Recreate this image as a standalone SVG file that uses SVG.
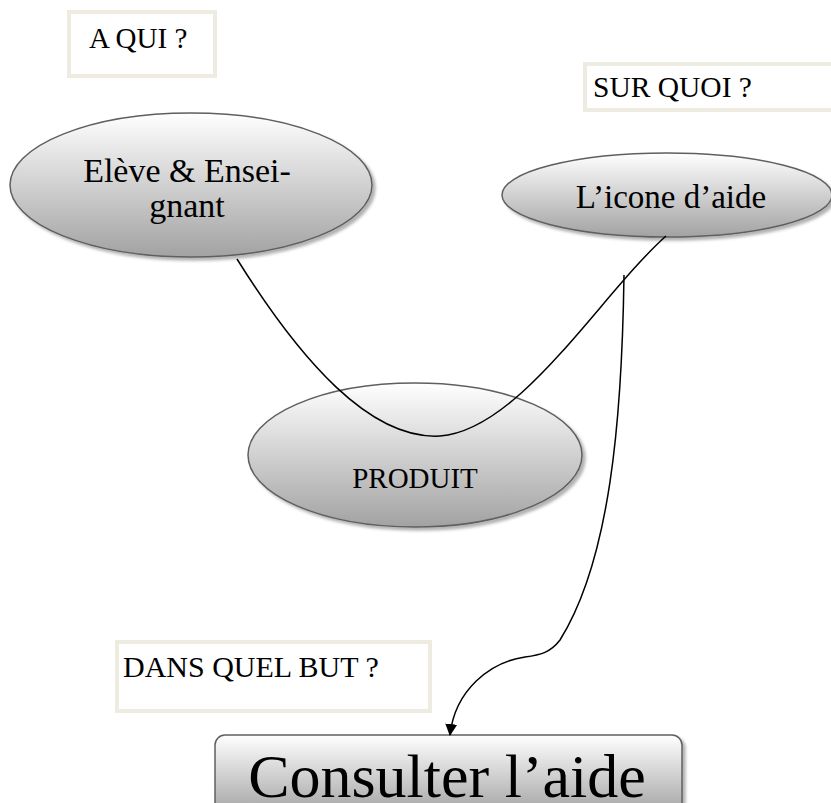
<svg xmlns="http://www.w3.org/2000/svg" width="831" height="803" viewBox="0 0 831 803">
  <style>
    .lbl { font-family: "Liberation Serif", "Times New Roman", serif; fill: #000; }
    .qbox { fill: #fff; stroke: #EEECE1; stroke-width: 4; }
    .oval { stroke: #5f5f5f; stroke-width: 1.5; filter: url(#shadow); }
    .link { fill: none; stroke: #000; stroke-width: 1.5; }
  </style>
  <defs>
    <linearGradient id="gEleve" gradientUnits="userSpaceOnUse" x1="0" y1="113" x2="0" y2="257">
      <stop offset="0" stop-color="#ffffff"/>
      <stop offset="1" stop-color="#a2a2a2"/>
    </linearGradient>
    <linearGradient id="gIcone" gradientUnits="userSpaceOnUse" x1="0" y1="153" x2="0" y2="237">
      <stop offset="0" stop-color="#ffffff"/>
      <stop offset="1" stop-color="#a2a2a2"/>
    </linearGradient>
    <linearGradient id="gProduit" gradientUnits="userSpaceOnUse" x1="0" y1="383" x2="0" y2="527">
      <stop offset="0" stop-color="#ffffff"/>
      <stop offset="1" stop-color="#a2a2a2"/>
    </linearGradient>
    <linearGradient id="gAide" gradientUnits="userSpaceOnUse" x1="0" y1="735" x2="0" y2="810">
      <stop offset="0" stop-color="#ffffff"/>
      <stop offset="1" stop-color="#a8a8a8"/>
    </linearGradient>
    <filter id="shadow" x="-10%" y="-10%" width="125%" height="130%">
      <feDropShadow dx="3" dy="3" stdDeviation="1.5" flood-color="#000" flood-opacity="0.3"/>
    </filter>
    <marker id="arrow" viewBox="0 0 12 12" refX="11" refY="6" markerWidth="12" markerHeight="12" markerUnits="userSpaceOnUse" orient="auto">
      <path d="M0,0 L12,6 L0,12 Z" fill="#000"/>
    </marker>
  </defs>

  <!-- question labels -->
  <g id="q-aqui">
    <rect class="qbox" x="69" y="12" width="146" height="64"/>
    <text class="lbl" x="89" y="48" font-size="29">A QUI ?</text>
  </g>
  <g id="q-surquoi">
    <rect class="qbox" x="585" y="64" width="260" height="46"/>
    <text class="lbl" x="593" y="97" font-size="29.5">SUR QUOI ?</text>
  </g>
  <g id="q-but">
    <rect class="qbox" x="117" y="642" width="313" height="69"/>
    <text class="lbl" x="123" y="677" font-size="30">DANS QUEL BUT ?</text>
  </g>

  <!-- nodes -->
  <g id="n-eleve">
    <ellipse class="oval" cx="191" cy="185" rx="181" ry="72" fill="url(#gEleve)"/>
    <text class="lbl" x="187" y="182" font-size="34" text-anchor="middle">Elève &amp; Ensei-</text>
    <text class="lbl" x="187" y="217" font-size="34" text-anchor="middle">gnant</text>
  </g>
  <g id="n-icone">
    <ellipse class="oval" cx="667" cy="195" rx="165" ry="42" fill="url(#gIcone)"/>
    <text class="lbl" x="671" y="208" font-size="33" text-anchor="middle">L’icone d’aide</text>
  </g>
  <g id="n-produit">
    <ellipse class="oval" cx="415" cy="455" rx="167" ry="72" fill="url(#gProduit)"/>
    <text class="lbl" x="415" y="488" font-size="29" text-anchor="middle">PRODUIT</text>
  </g>
  <g id="n-aide">
    <rect x="215" y="735" width="467" height="110" rx="10" fill="url(#gAide)" stroke="#5f5f5f" stroke-width="1.5" filter="url(#shadow)"/>
    <text class="lbl" x="447" y="797" font-size="62" text-anchor="middle">Consulter l’aide</text>
  </g>

  <!-- connectors -->
  <g id="connectors">
    <path class="link" d="M237,259 C300,360 370,440 440,436 C520,430 600,295 666,236"/>
    <path class="link" d="M624,275 C622,420 610,560 560,640 C550,653 540,655 525,657 C490,662 455,690 450,735" marker-end="url(#arrow)"/>
  </g>
</svg>
